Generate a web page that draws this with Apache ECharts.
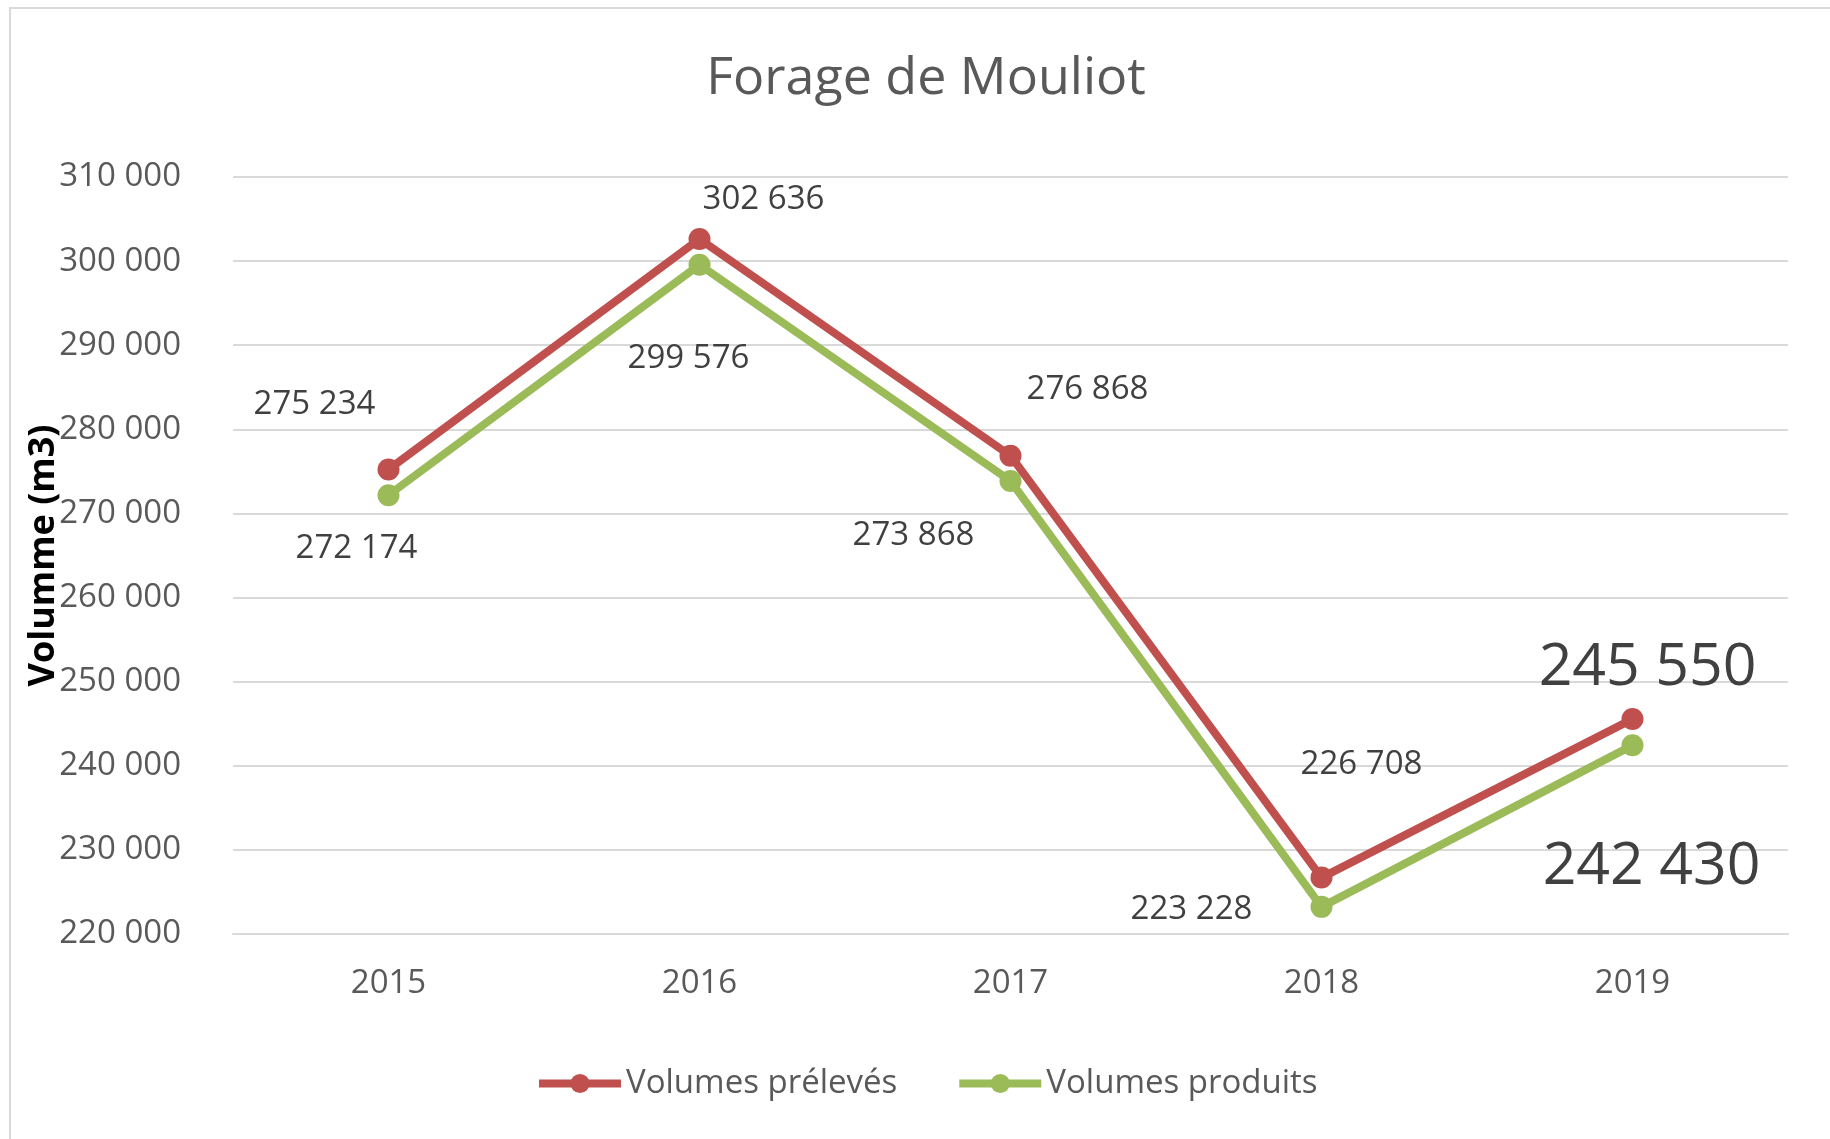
<!DOCTYPE html>
<html><head><meta charset="utf-8">
<script src="https://cdn.jsdelivr.net/npm/echarts@6/dist/echarts.min.js"></script>
<style>html,body{margin:0;padding:0;background:#fff}#c{width:1830px;height:1139px}</style>
</head><body><div id="c"></div>
<script>
const years = ['2015','2016','2017','2018','2019'];
const prelevés = [275234, 302636, 276868, 226708, 245550];
const produits = [272174, 299576, 273868, 223228, 242430];
const yTicks = {min: 220000, max: 310000, interval: 10000};

// label styling (offsets relative to point) kept separate from data
const offRed = [[-74,-65],[64,-39],[77,-66],[40,-113],[15,-51]];
const offGreen = [[-32,53],[-11,94],[-97,55],[-130,3],[19,122]];
const sizeRed = [33,33,33,33,59];
const sizeGreen = [33,33,33,33,59];

const fmt = v => String(v).replace(/\B(?=(\d{3})+(?!\d))/g, ' ');
const FONT = 'Open Sans';

function build(vals, offs, sizes){
  return vals.map((v,i)=>({value:v, label:{offset:offs[i], fontSize:sizes[i]}}));
}

const chart = echarts.init(document.getElementById('c'), null, {renderer:'canvas'});
chart.setOption({
  backgroundColor:'#fff',
  animation:false,
  textStyle:{fontFamily:FONT},
  title:{text:'Forage de Mouliot', left:921, textAlign:'center', top:48,
    textStyle:{fontFamily:FONT, fontSize:52, fontWeight:'normal', color:'#595959'}},
  graphic:[{type:'rect', shape:{x:10,y:8,width:1840,height:1200},
    style:{fill:'none', stroke:'#d9d9d9', lineWidth:2}, silent:true, z:-1}],
  legend:{bottom:34, left:530, itemWidth:82, itemHeight:24, itemGap:58,
    textStyle:{fontFamily:FONT, fontSize:33, color:'#595959'},
    lineStyle:{width:8},
    data:['Volumes prélevés','Volumes produits']},
  grid:{left:233, right:42, top:177, bottom:205, containLabel:false},
  xAxis:{type:'category', data:years, boundaryGap:true,
    axisLine:{show:true, lineStyle:{color:'#d9d9d9', width:2}},
    axisTick:{show:false},
    axisLabel:{fontFamily:FONT, fontSize:33, color:'#595959', margin:33}},
  yAxis:{type:'value', min:yTicks.min, max:yTicks.max, interval:yTicks.interval,
    name:'Volumme (m3)', nameLocation:'middle', nameGap:171, nameRotate:90,
    nameMoveOverlap:false,
    nameTextStyle:{fontFamily:FONT, fontSize:36, fontWeight:'bold', color:'#000'},
    axisLine:{show:false}, axisTick:{show:false},
    splitLine:{lineStyle:{color:'#d9d9d9', width:2}},
    axisLabel:{fontFamily:FONT, fontSize:33, color:'#595959', margin:52, formatter:fmt}},
  series:[
    {name:'Volumes prélevés', type:'line', data:build(prelevés, offRed, sizeRed),
     symbol:'circle', symbolSize:22, lineStyle:{width:8, color:'#C0504D'},
     itemStyle:{color:'#C0504D'}, z:3,
     label:{show:true, position:'inside', color:'#404040', fontFamily:FONT,
       formatter:p=>fmt(p.value)}},
    {name:'Volumes produits', type:'line', data:build(produits, offGreen, sizeGreen),
     symbol:'circle', symbolSize:22, lineStyle:{width:8, color:'#9BBB59'},
     itemStyle:{color:'#9BBB59'}, z:2,
     label:{show:true, position:'inside', color:'#404040', fontFamily:FONT,
       formatter:p=>fmt(p.value)}}
  ]
});
</script></body></html>
